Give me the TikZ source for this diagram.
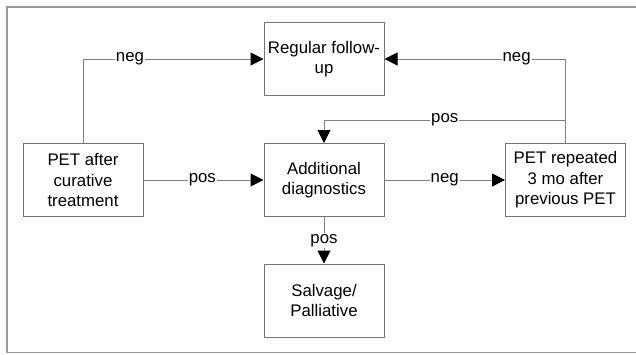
\documentclass[tikz,border=0pt]{standalone}
\usepackage{fontspec}
\setmainfont{Liberation Sans}
\usetikzlibrary{arrows.meta,positioning}
\tikzset{
  box/.style={draw=black!55, line width=1pt, fill=white, minimum width=120pt, minimum height=73pt,
    align=center, inner sep=2pt, font=\fontsize{16.8}{20.5}\selectfont},
  link/.style={draw=black!50, line width=1pt, -{Triangle[length=13pt,width=13pt,color=black]}},
  lbl/.style={fill=white, inner sep=1pt, font=\fontsize{16.8}{20.5}\selectfont}
}
\begin{document}
\begin{tikzpicture}[x=1pt,y=-1pt]
            \useasboundingbox (0,0) rectangle (636,354);
            % Rahmen
            \draw[black!40, line width=1.5pt] (640,7) -- (7,7) -- (7,352.5) -- (640,352.5);
            % Kaesten
            \node[box] (pet)  at (83,180)    {PET after\\curative\\treatment};
            \node[box] (reg)  at (324,59)    {Regular follow-\\up};
            \node[box] (add)  at (324,180)   {Additional\\diagnostics};
            \node[box] (salv) at (324,300.5) {Salvage/\\Palliative};
            \node[box] (rep)  at (565.5,180) {PET repeated\\3 mo after\\previous PET};
            % Hilfspunkte
            \coordinate (loop) at (rep.north |- 0,120);
            % Pfeile
            \draw[link] (pet.north) |- node[lbl, pos=0.63] {neg} (reg.west);
            \draw[link] (pet.east) -- node[lbl, pos=0.49] {pos} (add.west);
            \draw[link] (add.east) -- node[lbl, pos=0.5] {neg} (rep.west);
            \draw[link] (add.south) -- node[lbl, pos=0.5] {pos} (salv.north);
            \draw[link] (rep.north) |- node[lbl, pos=0.635] {neg} (reg.east);
            \draw[link] (loop) -| node[lbl, pos=0.25] {pos} (add.north);
\end{tikzpicture}
\end{document}
